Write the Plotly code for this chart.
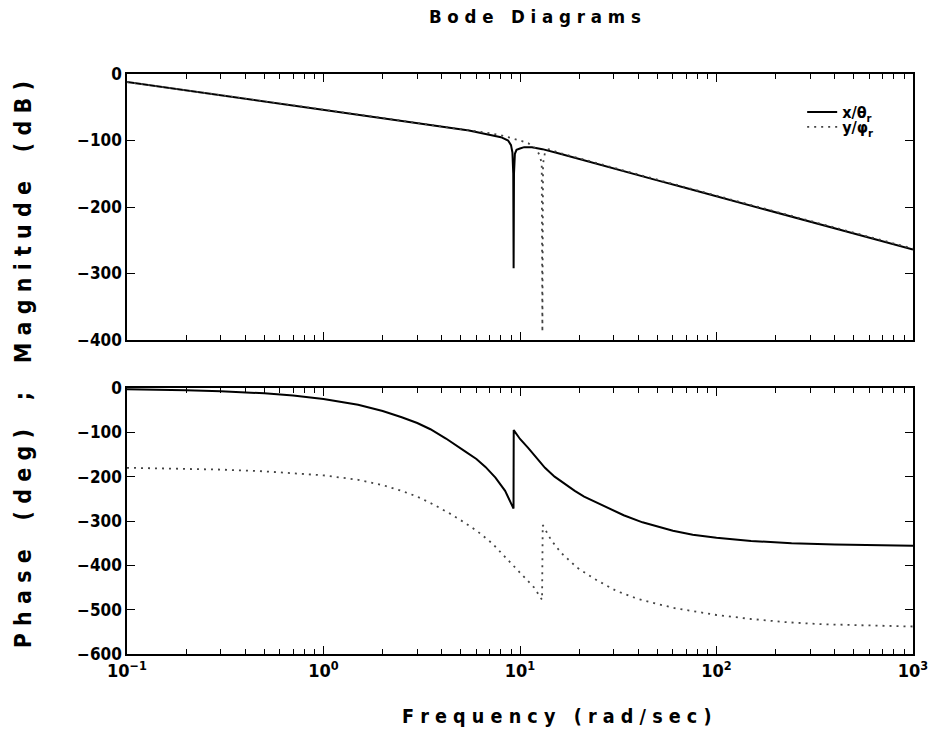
import plotly.graph_objects as go

# ---------------- data ----------------
freq_mag_x = [0.1, 0.2, 0.5, 1, 2, 3, 4.2, 5.5, 7, 8, 8.7, 9.0, 9.15, 9.24, 9.28, 9.32, 9.42,
              9.6, 10, 10.5, 11.5, 13, 16, 20, 25, 34, 50, 70, 100, 150, 250, 400, 600, 1000]
mag_x = [-12, -24.5, -41, -53, -66, -73, -80, -85, -91, -95, -100, -107, -118, -150, -292, -150, -120,
         -114, -112, -110, -110, -113, -120, -128, -136, -146.5, -160, -171.5, -184, -198, -216, -232, -246, -264]

freq_mag_y = [0.1, 0.2, 0.5, 1, 2, 3, 4.2, 5.5, 7, 8, 9, 10, 11, 12, 12.6, 12.9, 13.0, 13.1, 13.4,
              14, 16, 20, 25, 34, 50, 70, 100, 150, 250, 400, 600, 1000]
mag_y = [-12, -24.5, -41, -53, -66, -73, -80, -84, -89, -92, -96, -100, -104, -112, -122, -135, -388, -135, -118,
         -113, -119, -126.5, -134.5, -145.5, -159, -170.5, -183, -197, -215, -231, -245, -262.5]

freq_ph_x = [0.1, 0.15, 0.2, 0.3, 0.5, 0.7, 1, 1.5, 2, 2.5, 3, 3.5, 4.2, 5.3, 6.0, 6.67, 7.5, 8.4, 9.27,
             9.29, 10, 11, 12, 13.4, 15, 16.8, 19, 21.2, 26.7, 33.7, 42, 50, 60, 75.7, 100, 150, 241, 400, 1000]
ph_x = [-3, -4, -5, -7.5, -12, -17, -25, -38, -52, -66, -79, -93, -114, -144, -160, -178, -202, -232, -272,
        -95, -115, -135, -155, -180, -200, -216, -232, -245, -266, -287, -303, -313, -322, -331, -338, -345,
        -350, -353, -356]

freq_ph_y = [0.1, 0.2, 0.3, 0.5, 0.7, 1, 1.5, 2, 2.5, 3, 3.6, 4.35, 5.2, 6.1, 7.2, 8.4, 9.5, 10.6, 11.8,
             12.95, 13.05, 14.4, 16.2, 19.5, 23.8, 31, 40, 50, 62, 80, 100, 150, 222, 350, 500, 1000]
ph_y = [-180, -182, -184, -188, -192, -197, -207, -219, -232, -245, -262, -282, -303, -324, -350, -381, -405,
        -426, -450, -478, -309, -343, -372, -405, -430, -458, -476, -487, -497, -505, -512, -521, -528, -533,
        -535, -538]

major_ticks = [0.1, 1, 10, 100, 1000]
major_text = ["10<sup>−1</sup>", "10<sup>0</sup>", "10<sup>1</sup>", "10<sup>2</sup>", "10<sup>3</sup>"]

legend_names = ["x/θ<sub>r</sub>", "y/φ<sub>r</sub>"]

FONT = "Liberation Sans Narrow, DejaVu Sans Condensed, Liberation Sans, Arial, sans-serif"
DOT = dict(color="#444444", width=1.8, dash="2px,5px")

fig = go.Figure()
fig.add_trace(go.Scatter(x=freq_mag_x, y=mag_x, mode="lines", name=legend_names[0], legend="legend",
                         line=dict(color="black", width=2), xaxis="x", yaxis="y"))
fig.add_trace(go.Scatter(x=freq_mag_y, y=mag_y, mode="lines", name=legend_names[1], legend="legend2",
                         line=DOT, xaxis="x", yaxis="y"))
fig.add_trace(go.Scatter(x=freq_ph_x, y=ph_x, mode="lines", showlegend=False,
                         line=dict(color="black", width=2), xaxis="x2", yaxis="y2"))
fig.add_trace(go.Scatter(x=freq_ph_y, y=ph_y, mode="lines", showlegend=False,
                         line=DOT, xaxis="x2", yaxis="y2"))

common_x = dict(type="log", range=[-1, 3], showline=True, linecolor="black", linewidth=1.5,
                mirror="ticks", ticks="inside", ticklen=8, tickcolor="black", tickwidth=1.4,
                tickvals=major_ticks, showgrid=False, zeroline=False,
                minor=dict(dtick="D1", ticks="inside", ticklen=5, tickcolor="black",
                           tickwidth=1.2, showgrid=False))
common_y = dict(showline=True, linecolor="black", linewidth=1.5, mirror="ticks", ticks="inside",
                ticklen=8, tickcolor="black", tickwidth=1.4, showgrid=False, zeroline=False,
                dtick=100, tickfont=dict(size=17, family=FONT, color="black", weight="bold"))

top_lo = (654 - 340) / 580
bot_hi = 266 / 580

fig.update_layout(
    width=940, height=738,
    margin=dict(l=127, r=17, t=74, b=84),
    paper_bgcolor="white", plot_bgcolor="white",
    font=dict(family=FONT, color="black"),
    title=dict(text="B o d e   D i a g r a m s", x=0.569, xanchor="center",
               y=1 - 17 / 738, yanchor="middle", yref="container",
               font=dict(size=18.5, family=FONT, color="black", weight="bold")),
    xaxis=dict(domain=[0, 1], anchor="y", showticklabels=False, **common_x),
    yaxis=dict(domain=[top_lo, 1], anchor="x", range=[-400, 0], **common_y),
    xaxis2=dict(domain=[0, 1], anchor="y2", ticktext=major_text,
                tickfont=dict(size=18, family=FONT, color="black", weight="bold"), **common_x),
    yaxis2=dict(domain=[0, bot_hi], anchor="x2", range=[-600, 0], **common_y),
    legend=dict(x=0.859, y=(654 - 95) / 580, xanchor="left", yanchor="top",
                bgcolor="rgba(0,0,0,0)", font=dict(size=16, family=FONT, color="black", weight="bold"),
                itemwidth=30),
    legend2=dict(x=0.859, y=(654 - 110) / 580, xanchor="left", yanchor="top",
                 bgcolor="rgba(0,0,0,0)", font=dict(size=16, family=FONT, color="black", weight="bold"),
                 itemwidth=30),
    showlegend=True,
)

fig.add_annotation(text="P h a s e    ( d e g )    ;    M a g n i t u d e    ( d B )",
                   xref="paper", yref="paper", x=-0.132, y=(654 - 365) / 580,
                   xanchor="center", yanchor="middle", textangle=-90, showarrow=False,
                   font=dict(size=23, family=FONT, color="black", weight="bold"))
fig.add_annotation(text="F r e q u e n c y   ( r a d / s e c )",
                   xref="paper", yref="paper", x=(562 - 127) / 796, y=(654 - 716) / 580,
                   xanchor="center", yanchor="middle", showarrow=False,
                   font=dict(size=19.6, family=FONT, color="black", weight="bold"))

fig.write_html("out.html")
